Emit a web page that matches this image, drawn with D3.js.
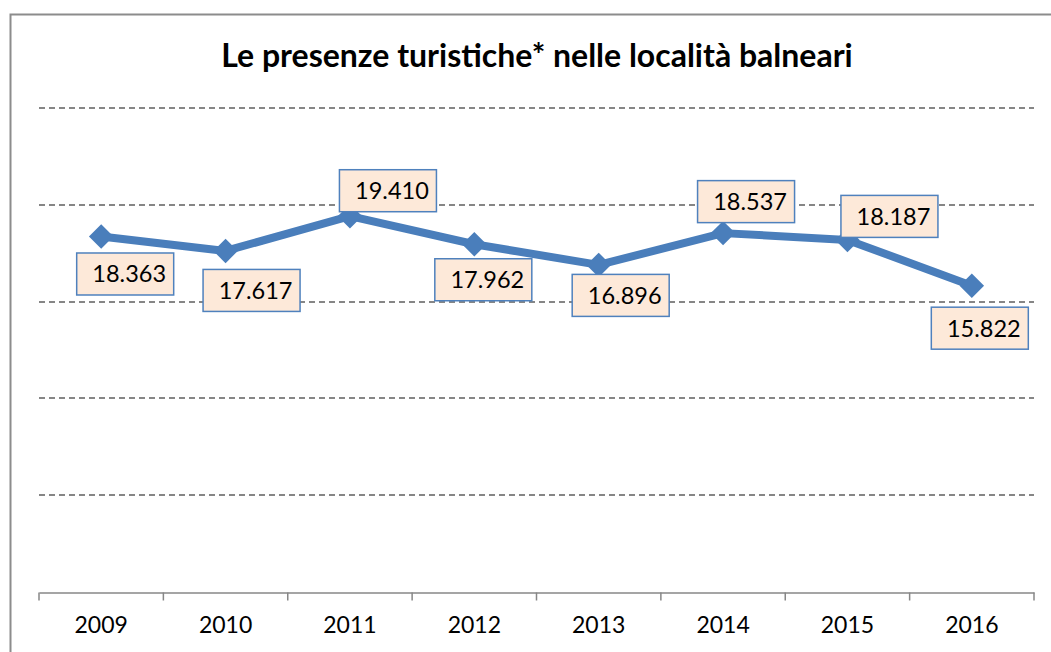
<!DOCTYPE html>
<html>
<head>
<meta charset="utf-8">
<script src="https://cdn.jsdelivr.net/npm/d3@7"></script>
<style>
  body { margin: 0; background: #fff; }
  text { font-family: Lato, "Open Sans", sans-serif; }
</style>
</head>
<body>
<div id="chart"></div>
<script>
// data
var years = ["2009", "2010", "2011", "2012", "2013", "2014", "2015", "2016"];
var presenze = [18.363, 17.617, 19.410, 17.962, 16.896, 18.537, 18.187, 15.822];
var labelText = ["18.363", "17.617", "19.410", "17.962", "16.896", "18.537", "18.187", "15.822"];
var gridTicks = [5, 10, 15, 20, 25];

// label box placement (dx of box centre, dy of box top, relative to point)
var labelOffsets = [[24, 16], [26, 18], [38, -47], [9, 14], [22, 9], [23, -53], [42, -45], [8, 21]];

var width = 1051, height = 652;
var lineColor = "#4a7ebb";

var svg = d3.select("#chart").append("svg")
    .attr("width", width)
    .attr("height", height);

// outer frame
svg.append("rect")
    .attr("x", 10.5).attr("y", 14.5)
    .attr("width", width + 20).attr("height", height + 20)
    .attr("fill", "#fff")
    .attr("stroke", "#8c8c8c")
    .attr("stroke-width", 2);

var xScale = d3.scalePoint().domain(years).range([39, 1034]).padding(0.5);
var xBand = d3.scaleBand().domain(years).range([39, 1034]);
var yScale = d3.scaleLinear().domain([0, 25]).range([592, 108]);

// title
svg.append("text")
    .attr("x", 537).attr("y", 67)
    .attr("text-anchor", "middle")
    .style("font-size", "32px")
    .style("font-weight", "bold")
    .text("Le presenze turistiche* nelle località balneari");

// gridlines
svg.append("g").selectAll("line")
    .data(gridTicks)
    .join("line")
    .attr("x1", 39).attr("x2", 1034)
    .attr("y1", d => Math.round(yScale(d)))
    .attr("y2", d => Math.round(yScale(d)))
    .attr("stroke", "#868686")
    .attr("stroke-width", 2)
    .attr("stroke-dasharray", "6,4");

// x axis
var xAxis = d3.axisBottom(xBand).tickSize(0).tickPadding(24);
var xAxisG = svg.append("g")
    .attr("transform", "translate(0," + (yScale(0) + 0.5) + ")")
    .call(xAxis);
xAxisG.select(".domain").attr("stroke", "#878787").attr("stroke-width", 1.5);
xAxisG.selectAll("text")
    .style("font-size", "23px")
    .style("font-family", "Lato, 'Open Sans', sans-serif")
    .attr("fill", "#000");

// tick marks at category boundaries
var bounds = years.map(d => xBand(d)).concat([xBand.range()[1]]);
xAxisG.selectAll(".bound")
    .data(bounds)
    .join("line")
    .attr("class", "bound")
    .attr("x1", d => d).attr("x2", d => d)
    .attr("y1", 0).attr("y2", 8)
    .attr("stroke", "#878787")
    .attr("stroke-width", 1.5);

// line
var line = d3.line()
    .x((d, i) => xScale(years[i]))
    .y(d => yScale(d));

svg.append("path")
    .datum(presenze)
    .attr("d", line)
    .attr("fill", "none")
    .attr("stroke", lineColor)
    .attr("stroke-width", 8)
    .attr("stroke-linejoin", "round");

// diamond markers
svg.append("g").selectAll("path")
    .data(presenze)
    .join("path")
    .attr("d", d3.symbol().type(d3.symbolSquare).size(300))
    .attr("transform", (d, i) => "translate(" + xScale(years[i]) + "," + yScale(d) + ") rotate(45)")
    .attr("fill", lineColor);

// data labels
var labels = svg.append("g").selectAll("g")
    .data(presenze)
    .join("g")
    .attr("transform", (d, i) => "translate(" + (xScale(years[i]) + labelOffsets[i][0]) + "," + (yScale(d) + labelOffsets[i][1]) + ")");

labels.append("rect")
    .attr("x", -48.5).attr("y", 0.5)
    .attr("width", 97).attr("height", 42)
    .attr("fill", "#fde9d9")
    .attr("stroke", "#4f81bd")
    .attr("stroke-width", 1.5);

labels.append("text")
    .attr("x", 4).attr("y", 30)
    .attr("text-anchor", "middle")
    .style("font-size", "23.5px")
    .attr("fill", "#000")
    .text((d, i) => labelText[i]);
</script>
</body>
</html>
